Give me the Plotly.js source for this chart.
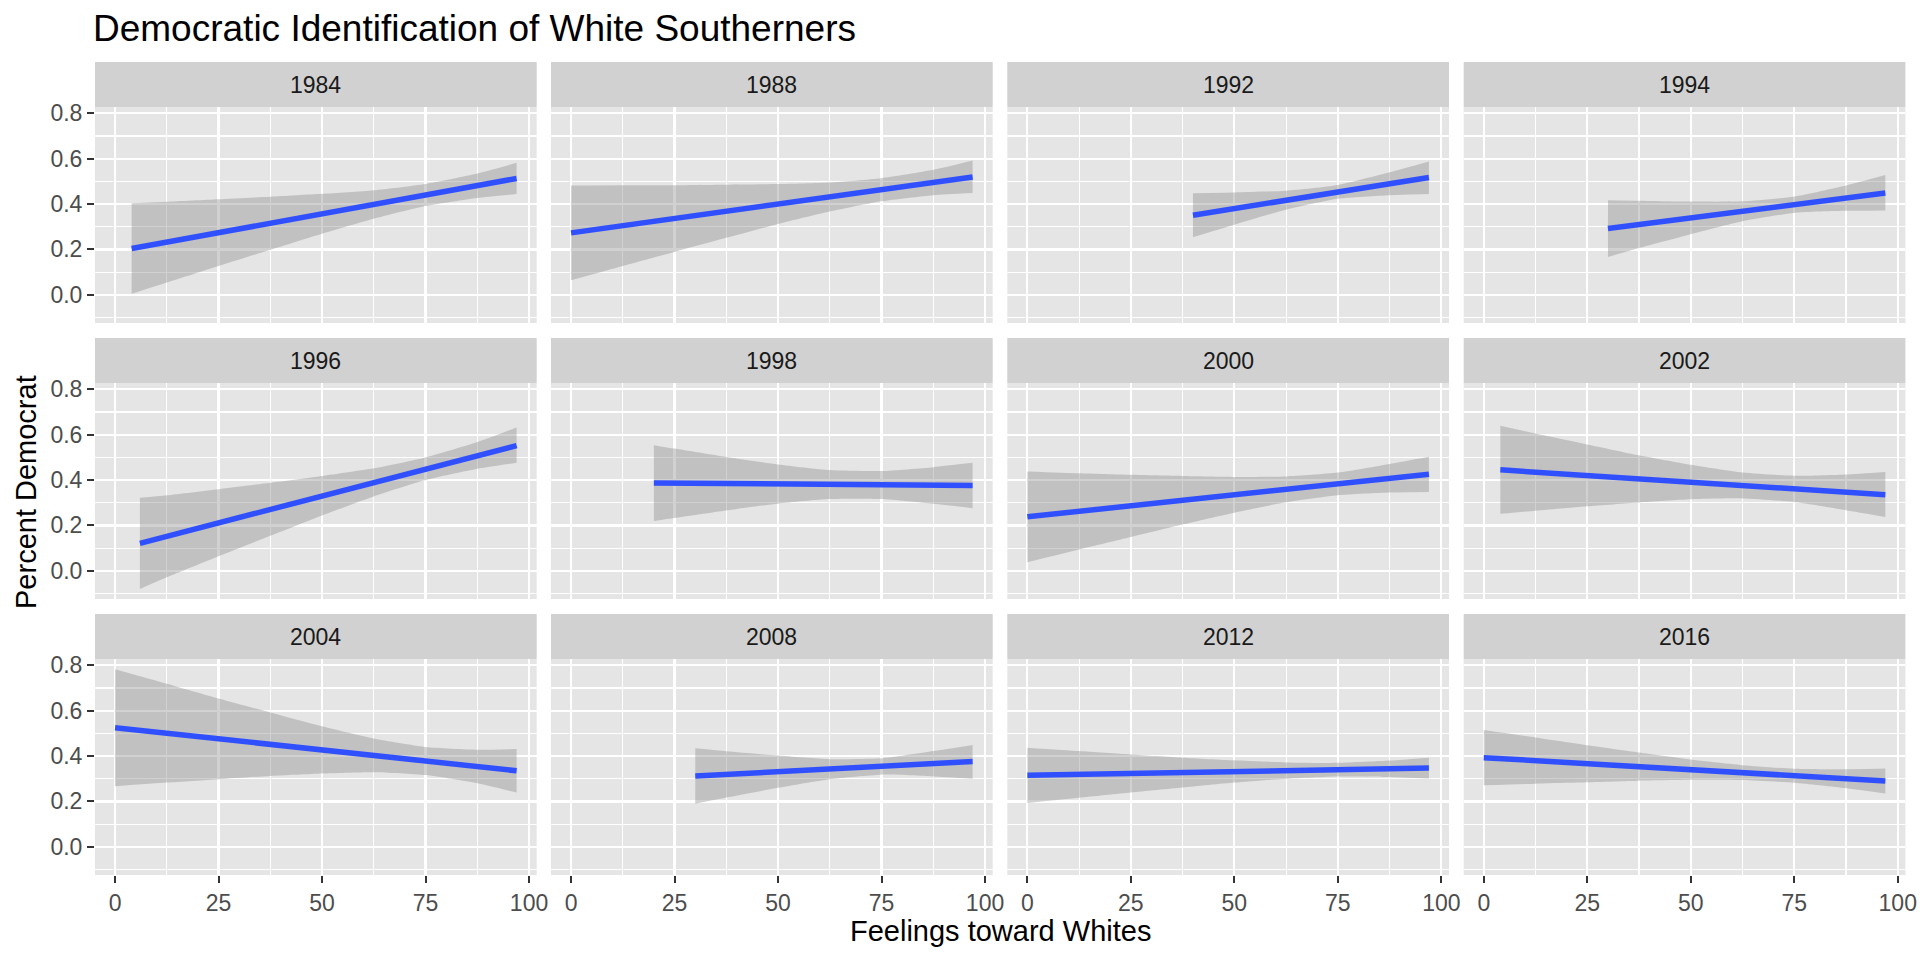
<!DOCTYPE html>
<html><head><meta charset="utf-8">
<script src="https://cdn.plot.ly/plotly-3.0.1.min.js"></script>
<style>html,body{margin:0;padding:0;background:#fff}#chart{width:1920px;height:960px}</style>
</head><body><div id="chart"></div>
<script>
const years = ["1984","1988","1992","1994","1996","1998","2000","2002","2004","2008","2012","2016"];

const feelingX = [
  [4, 12.5, 25, 37.5, 50, 62.5, 75, 87.5, 97],
  [0, 12.5, 25, 37.5, 50, 62.5, 75, 87.5, 97],
  [40, 50, 62.5, 75, 87.5, 97],
  [30, 37.5, 50, 62.5, 75, 87.5, 97],
  [6, 12.5, 25, 37.5, 50, 62.5, 75, 87.5, 97],
  [20, 25, 37.5, 50, 62.5, 75, 87.5, 97],
  [0, 12.5, 25, 37.5, 50, 62.5, 75, 87.5, 97],
  [4, 12.5, 25, 37.5, 50, 62.5, 75, 87.5, 97],
  [0, 12.5, 25, 37.5, 50, 62.5, 75, 87.5, 97],
  [30, 37.5, 50, 62.5, 75, 87.5, 97],
  [0, 12.5, 25, 37.5, 50, 62.5, 75, 87.5, 97],
  [0, 12.5, 25, 37.5, 50, 62.5, 75, 87.5, 97]
];

const fitY = [
  [0.204, 0.232, 0.274, 0.315, 0.357, 0.398, 0.440, 0.481, 0.513],
  [0.273, 0.305, 0.336, 0.368, 0.400, 0.431, 0.463, 0.495, 0.519],
  [0.351, 0.380, 0.417, 0.453, 0.490, 0.517],
  [0.292, 0.310, 0.339, 0.368, 0.397, 0.426, 0.449],
  [0.121, 0.152, 0.212, 0.271, 0.331, 0.390, 0.450, 0.509, 0.552],
  [0.387, 0.386, 0.384, 0.382, 0.380, 0.378, 0.376, 0.376],
  [0.238, 0.262, 0.286, 0.311, 0.335, 0.359, 0.383, 0.408, 0.426],
  [0.445, 0.435, 0.420, 0.405, 0.391, 0.376, 0.361, 0.346, 0.335],
  [0.525, 0.501, 0.476, 0.452, 0.427, 0.403, 0.378, 0.354, 0.335],
  [0.312, 0.319, 0.331, 0.342, 0.354, 0.366, 0.376],
  [0.315, 0.319, 0.323, 0.327, 0.332, 0.336, 0.340, 0.344, 0.347],
  [0.393, 0.380, 0.366, 0.353, 0.340, 0.327, 0.313, 0.300, 0.290]
];

const lowerY = [
  [0.004, 0.054, 0.127, 0.198, 0.269, 0.335, 0.391, 0.427, 0.444],
  [0.064, 0.127, 0.189, 0.251, 0.312, 0.367, 0.412, 0.439, 0.449],
  [0.254, 0.309, 0.375, 0.423, 0.439, 0.444],
  [0.167, 0.206, 0.267, 0.324, 0.361, 0.370, 0.372],
  [-0.080, -0.029, 0.064, 0.154, 0.244, 0.328, 0.400, 0.450, 0.476],
  [0.220, 0.233, 0.266, 0.296, 0.316, 0.316, 0.295, 0.276],
  [0.038, 0.094, 0.149, 0.204, 0.256, 0.302, 0.333, 0.345, 0.347],
  [0.251, 0.265, 0.284, 0.301, 0.315, 0.319, 0.303, 0.267, 0.237],
  [0.267, 0.283, 0.298, 0.312, 0.323, 0.329, 0.316, 0.280, 0.239],
  [0.190, 0.217, 0.260, 0.298, 0.318, 0.310, 0.300],
  [0.193, 0.216, 0.239, 0.261, 0.283, 0.300, 0.310, 0.308, 0.301],
  [0.271, 0.278, 0.284, 0.291, 0.295, 0.294, 0.282, 0.258, 0.235]
];

const upperY = [
  [0.404, 0.410, 0.421, 0.432, 0.445, 0.461, 0.489, 0.535, 0.582],
  [0.482, 0.483, 0.483, 0.485, 0.488, 0.495, 0.514, 0.551, 0.592],
  [0.448, 0.451, 0.459, 0.484, 0.540, 0.588],
  [0.417, 0.415, 0.411, 0.412, 0.433, 0.482, 0.528],
  [0.322, 0.333, 0.360, 0.388, 0.418, 0.452, 0.500, 0.568, 0.632],
  [0.554, 0.539, 0.502, 0.469, 0.444, 0.440, 0.457, 0.476],
  [0.438, 0.430, 0.423, 0.418, 0.414, 0.416, 0.433, 0.471, 0.503],
  [0.639, 0.605, 0.557, 0.509, 0.467, 0.433, 0.419, 0.425, 0.436],
  [0.783, 0.719, 0.654, 0.592, 0.531, 0.477, 0.440, 0.428, 0.431],
  [0.434, 0.421, 0.402, 0.386, 0.390, 0.422, 0.449],
  [0.437, 0.422, 0.407, 0.393, 0.381, 0.372, 0.370, 0.380, 0.393],
  [0.515, 0.482, 0.448, 0.416, 0.385, 0.360, 0.344, 0.342, 0.345]
];

const xTickVals = [0, 25, 50, 75, 100];
const xTickText = ["0", "25", "50", "75", "100"];
const xMinorVals = [12.5, 37.5, 62.5, 87.5];
const yTickVals = [0, 0.2, 0.4, 0.6, 0.8];
const yTickText = ["0.0", "0.2", "0.4", "0.6", "0.8"];
const yMinorVals = [-0.1, 0.1, 0.3, 0.5, 0.7];

const W = 1920, H = 960;
const FONT = "Liberation Sans, Arial, Helvetica, sans-serif";
const colLeft = [95, 551, 1007.3, 1463.7];
const panelW = 441.7;
const rowStep = 276, stripTop0 = 62, panelTop0 = 107, panelBot0 = 323;

const traces = [];
const layout = {
  width: W, height: H,
  margin: {l: 0, r: 0, t: 0, b: 0},
  paper_bgcolor: "#FFFFFF",
  plot_bgcolor: "#E5E5E5",
  showlegend: false,
  font: {family: FONT, color: "#4D4D4D"},
  shapes: [],
  annotations: []
};

years.forEach((yr, i) => {
  const r = Math.floor(i / 4), c = i % 4;
  const xa = i === 0 ? "x" : "x" + (i + 1);
  const ya = i === 0 ? "y" : "y" + (i + 1);
  const xKey = i === 0 ? "xaxis" : "xaxis" + (i + 1);
  const yKey = i === 0 ? "yaxis" : "yaxis" + (i + 1);
  const x0 = colLeft[c] / W, x1 = (colLeft[c] + panelW) / W;
  const pTop = panelTop0 + r * rowStep, pBot = panelBot0 + r * rowStep, sTop = stripTop0 + r * rowStep;

  layout[xKey] = {
    domain: [x0, x1], anchor: ya, range: [-4.85, 101.85],
    tickmode: "array", tickvals: xTickVals, ticktext: xTickText,
    showticklabels: r === 2, ticks: r === 2 ? "outside" : "",
    ticklen: 7, tickwidth: 2, tickcolor: "#333333",
    tickfont: {family: FONT, size: 23, color: "#4D4D4D"},
    showgrid: true, gridcolor: "#FFFFFF", gridwidth: 2.2,
    minor: {tickmode: "array", tickvals: xMinorVals, showgrid: true, gridcolor: "#FFFFFF", gridwidth: 1.1},
    zeroline: false, showline: false, fixedrange: true
  };
  layout[yKey] = {
    domain: [1 - pBot / H, 1 - pTop / H], anchor: xa, range: [-0.1245, 0.828],
    tickmode: "array", tickvals: yTickVals, ticktext: yTickText,
    showticklabels: c === 0, ticks: c === 0 ? "outside" : "",
    ticklen: 7, tickwidth: 2, tickcolor: "#333333",
    tickfont: {family: FONT, size: 23, color: "#4D4D4D"},
    showgrid: true, gridcolor: "#FFFFFF", gridwidth: 2.2,
    minor: {tickmode: "array", tickvals: yMinorVals, showgrid: true, gridcolor: "#FFFFFF", gridwidth: 1.1},
    zeroline: false, showline: false, fixedrange: true
  };

  layout.shapes.push({
    type: "rect", xref: "paper", yref: "paper",
    x0: x0, x1: x1, y0: 1 - pTop / H, y1: 1 - sTop / H,
    fillcolor: "#D1D1D1", line: {width: 0}, layer: "below"
  });
  layout.annotations.push({
    xref: "paper", yref: "paper", x: (x0 + x1) / 2, y: 1 - (sTop + pTop) / 2 / H,
    xanchor: "center", yanchor: "middle", showarrow: false,
    text: yr, font: {family: FONT, size: 23, color: "#1A1A1A"}
  });

  traces.push({
    type: "scatter", mode: "lines", xaxis: xa, yaxis: ya,
    x: feelingX[i], y: lowerY[i],
    line: {width: 0, color: "rgba(0,0,0,0)", shape: "spline", smoothing: 0.6},
    hoverinfo: "skip"
  });
  traces.push({
    type: "scatter", mode: "lines", xaxis: xa, yaxis: ya,
    x: feelingX[i], y: upperY[i],
    fill: "tonexty", fillcolor: "rgba(140,140,140,0.4)",
    line: {width: 0, color: "rgba(0,0,0,0)", shape: "spline", smoothing: 0.6},
    hoverinfo: "skip"
  });
  traces.push({
    type: "scatter", mode: "lines", xaxis: xa, yaxis: ya,
    x: feelingX[i], y: fitY[i],
    line: {width: 5.5, color: "#3050FF"}
  });
});

layout.annotations.push({
  xref: "paper", yref: "paper", x: 91 / W, y: 1 - 28 / H,
  xanchor: "left", yanchor: "middle", showarrow: false,
  text: "Democratic Identification of White Southerners",
  font: {family: FONT, size: 37, color: "#000000"}
});
layout.annotations.push({
  xref: "paper", yref: "paper", x: (95 + 1905.4) / 2 / W, y: 1 - 931 / H,
  xanchor: "center", yanchor: "middle", showarrow: false,
  text: "Feelings toward Whites",
  font: {family: FONT, size: 29, color: "#000000"}
});
layout.annotations.push({
  xref: "paper", yref: "paper", x: 26 / W, y: 1 - 492 / H,
  xanchor: "center", yanchor: "middle", showarrow: false, textangle: -90,
  text: "Percent Democrat",
  font: {family: FONT, size: 29, color: "#000000"}
});

Plotly.newPlot("chart", traces, layout, {displayModeBar: false, staticPlot: true});
</script>
</body></html>
